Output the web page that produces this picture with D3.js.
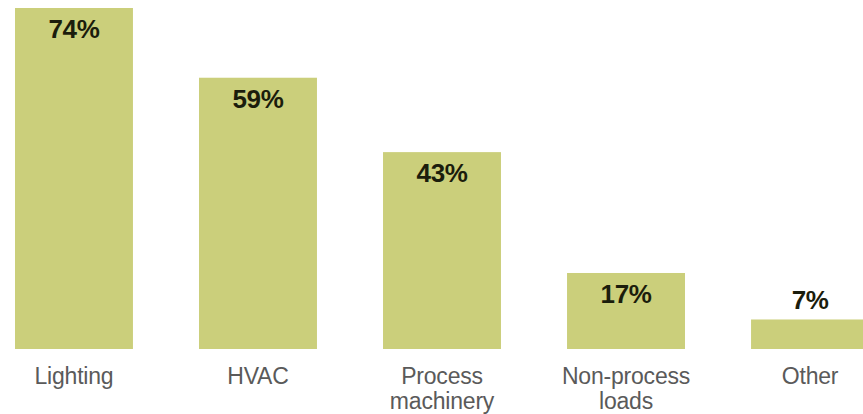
<!DOCTYPE html>
<html>
<head>
<meta charset="utf-8">
<script src="https://cdn.jsdelivr.net/npm/d3@7"></script>
<style>
  html, body { margin: 0; padding: 0; background: #fff; }
  svg { display: block; }
</style>
</head>
<body>
<svg id="chart" width="863" height="414"></svg>
<script>
// Share of respondents by end use
const categories = ["Lighting", "HVAC", "Process machinery", "Non-process loads", "Other"];
const categoryLines = [["Lighting"], ["HVAC"], ["Process", "machinery"], ["Non-process", "loads"], ["Other"]];
const values = [74, 59, 43, 17, 7];
const valueLabels = ["74%", "59%", "43%", "17%", "7%"];

const svg = d3.select("#chart");
const plotBottom = 349;
const plotTop = 8;

const x = d3.scaleBand()
  .domain(categories)
  .range([15, 869])
  .paddingInner(0.359)
  .paddingOuter(0);

const y = d3.scaleLinear()
  .domain([0.65, 74])
  .range([plotBottom, plotTop]);

const barColor = "#cbcf7b";

svg.append("g")
  .selectAll("rect")
  .data(categories)
  .join("rect")
  .attr("x", d => x(d))
  .attr("y", (d, i) => y(values[i]))
  .attr("width", x.bandwidth())
  .attr("height", (d, i) => plotBottom - y(values[i]))
  .attr("fill", barColor);

// Value labels: inside the bar near its top, above the bar when it is too short
svg.append("g")
  .selectAll("text")
  .data(categories)
  .join("text")
  .attr("x", d => x(d) + x.bandwidth() / 2)
  .attr("y", (d, i) => {
    const h = plotBottom - y(values[i]);
    return h > 50 ? y(values[i]) + 30 : y(values[i]) - 10;
  })
  .attr("text-anchor", "middle")
  .attr("font-family", "Liberation Sans, Arial, sans-serif")
  .attr("font-weight", "bold")
  .attr("font-size", 26)
  .attr("letter-spacing", -0.4)
  .attr("fill", "#1b1d0c")
  .text((d, i) => valueLabels[i]);

// Category labels under the bars
const cat = svg.append("g")
  .selectAll("text")
  .data(categories)
  .join("text")
  .attr("x", d => x(d) + x.bandwidth() / 2)
  .attr("y", 384)
  .attr("text-anchor", "middle")
  .attr("font-family", "Liberation Sans, Arial, sans-serif")
  .attr("font-size", 23)
  .attr("letter-spacing", -0.2)
  .attr("fill", "#5a5a5a");

cat.each(function(d, i) {
  const t = d3.select(this);
  categoryLines[i].forEach((line, j) => {
    t.append("tspan")
      .attr("x", x(d) + x.bandwidth() / 2)
      .attr("dy", j === 0 ? 0 : 25)
      .text(line);
  });
});
</script>
</body>
</html>
